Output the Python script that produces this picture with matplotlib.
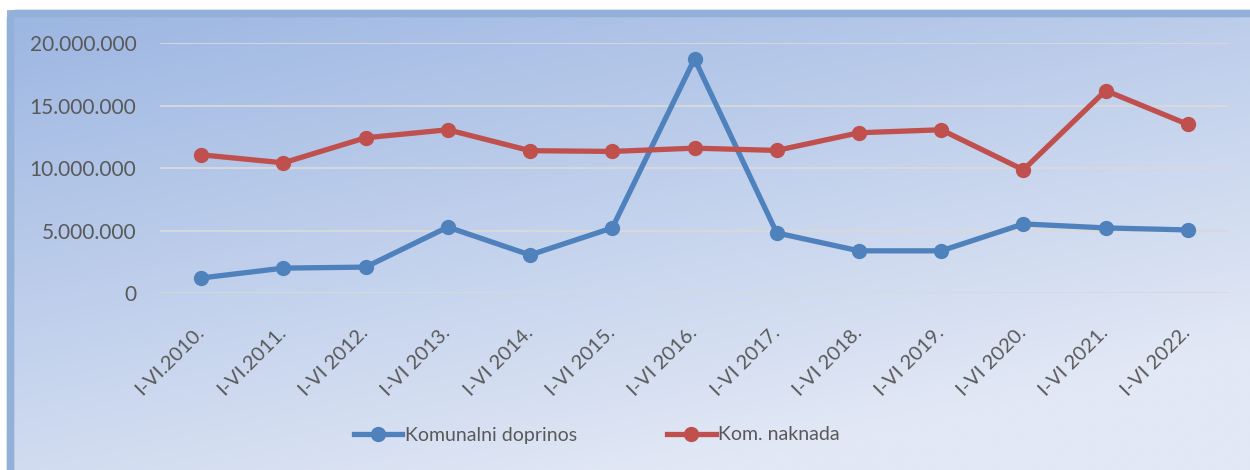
import numpy as np
import matplotlib.pyplot as plt
from matplotlib.ticker import FuncFormatter
from matplotlib.patches import FancyBboxPatch

# podaci (iz slike)
godine = ['I-VI.2010.', 'I-VI.2011.', 'I-VI 2012.', 'I-VI 2013.', 'I-VI 2014.',
          'I-VI 2015.', 'I-VI 2016.', 'I-VI 2017.', 'I-VI 2018.', 'I-VI 2019.',
          'I-VI 2020.', 'I-VI 2021.', 'I-VI 2022.']
komunalni_doprinos = [1230000, 2020000, 2100000, 5300000, 3070000, 5230000, 18730000,
                      4830000, 3400000, 3400000, 5550000, 5230000, 5070000]
kom_naknada = [11070000, 10430000, 12430000, 13070000, 11400000, 11340000, 11600000,
               11420000, 12830000, 13070000, 9870000, 16200000, 13500000]
y_ticks = [0, 5000000, 10000000, 15000000, 20000000]

plt.rcParams['font.family'] = ['Lato', 'DejaVu Sans']
tekst = '#595959'

W, H = 1250, 470
fig = plt.figure(figsize=(W / 100, H / 100), dpi=100, facecolor='white')

# pozadina s gradijentom
bg = fig.add_axes([0, 0, 1, 1], zorder=0)
bg.set_xlim(0, W)
bg.set_ylim(H, 0)
bg.axis('off')
gx, gy = np.meshgrid(np.linspace(0, 1, 300), np.linspace(0, 1, 120))
t = np.clip(0.45 * gx + 0.75 * gy, 0, 1)
c0 = np.array([0x9c, 0xb6, 0xe2]) / 255
c1 = np.array([0xe2, 0xe8, 0xf5]) / 255
img = c0[None, None, :] * (1 - t[..., None]) + c1[None, None, :] * t[..., None]
bg.imshow(img, extent=[7, W, H, 10], aspect='auto', interpolation='bilinear')
bg.add_patch(FancyBboxPatch((10.5, 13.5), W + 20, H + 20, boxstyle='round,pad=0,rounding_size=6',
                            fill=False, ec='#93b1d8', lw=5.5))

ax = fig.add_axes([160 / W, 1 - 293.4 / H, (1229 - 160) / W, (293.4 - 43) / H], zorder=1)
ax.patch.set_alpha(0)
x = np.arange(len(godine))

ax.plot(x, komunalni_doprinos, color='#4f81bd', lw=3.8, marker='o', ms=10,
        label='Komunalni doprinos', zorder=3)
ax.plot(x, kom_naknada, color='#c0504d', lw=3.8, marker='o', ms=10,
        label='Kom. naknada', zorder=3)

ax.set_xlim(-0.5, len(godine) - 0.5)
ax.set_ylim(0, 20000000)
ax.set_yticks(y_ticks)
ax.yaxis.set_major_formatter(FuncFormatter(lambda v, p: '{:,.0f}'.format(v).replace(',', '.')))
ax.grid(axis='y', color='#d9d9d9', lw=1.3, zorder=1)
ax.set_axisbelow(True)
for s in ax.spines.values():
    s.set_visible(False)
ax.tick_params(length=0, labelcolor=tekst)
ax.tick_params(axis='y', pad=17, labelsize=15)
ax.set_xticks(x)
ax.set_xticklabels(godine, rotation=45, ha='right', va='center', rotation_mode='anchor')
ax.tick_params(axis='x', pad=26, labelsize=14.5)

ax.legend(loc='center', bbox_to_anchor=(597 / W, 1 - 435 / H), bbox_transform=fig.transFigure,
          ncol=2, frameon=False, fontsize=14, labelcolor=tekst, handlelength=2.5,
          handletextpad=0.15, columnspacing=4.6)

fig.savefig('out.png', dpi=100)
